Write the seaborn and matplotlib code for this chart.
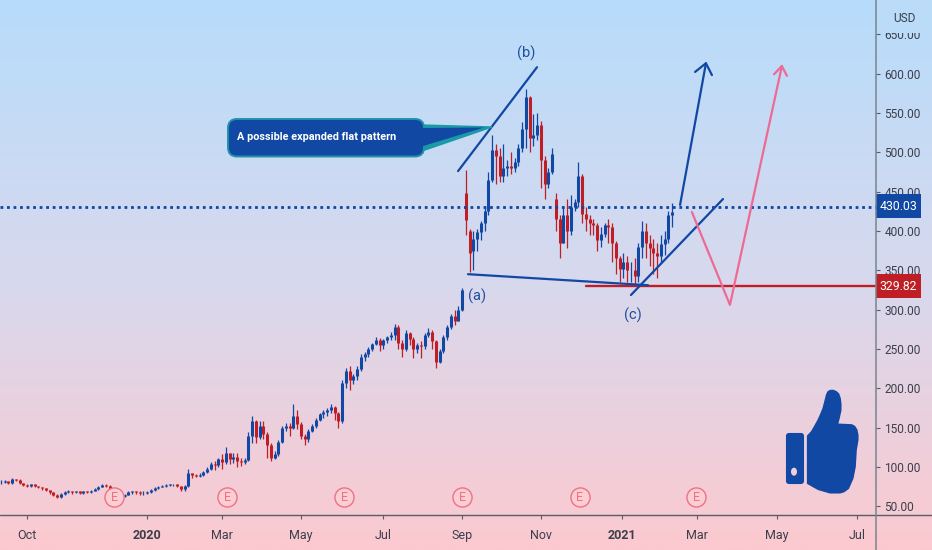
import numpy as np
import pandas as pd
import matplotlib.pyplot as plt
import seaborn as sns
from matplotlib.colors import LinearSegmentedColormap
from matplotlib.patches import FancyBboxPatch, Polygon, Ellipse, Rectangle

# Candles, one per two sessions
opens = [81, 81, 82, 80, 85, 84, 80, 77, 76, 78,
         76, 75, 73, 71, 68, 65, 62, 66, 68, 70,
         68, 69, 67, 69, 68, 70, 72, 75, 77, 76,
         72, 68, 65, 63, 65, 68, 69, 68, 67, 67,
         68, 71, 73, 75, 76, 77, 78, 78, 76, 72,
         76, 92, 90, 89, 90, 94, 98, 104, 102, 110,
         106, 118, 110, 113, 108, 106, 109, 140, 158, 138,
         152, 142, 128, 112, 116, 132, 150, 152, 150, 165,
         155, 140, 135, 146, 152, 160, 167, 170, 172, 176,
         168, 158, 207, 222, 210, 215, 225, 240, 243, 250,
         256, 262, 255, 262, 265, 268, 278, 258, 250, 270,
         263, 250, 255, 254, 268, 272, 260, 234, 248, 265,
         278, 292, 285, 300, 448, 400, 375, 390, 398, 410,
         425, 465, 503, 495, 470, 480, 483, 480, 488, 505,
         530, 570, 518, 522, 535, 490, 460, 475, 440, 415,
         385, 420, 400, 430, 437, 470, 422, 415, 410, 408,
         388, 396, 408, 405, 385, 365, 352, 360, 350, 350,
         343, 380, 400, 385, 378, 372, 368, 383, 390, 420]
highs = [83, 83, 82, 86, 85, 85, 80, 78, 79, 78,
         76, 75, 73, 71, 68, 66, 67, 70, 71, 70,
         70, 70, 70, 70, 71, 73, 76, 78, 78, 77,
         72, 68, 65, 66, 69, 70, 70, 69, 69, 69,
         72, 74, 76, 77, 78, 79, 79, 79, 76, 77,
         97, 92, 91, 92, 95, 100, 106, 108, 112, 117,
         125, 118, 118, 118, 112, 112, 145, 165, 160, 158,
         158, 145, 130, 120, 134, 152, 156, 156, 180, 172,
         157, 142, 148, 154, 162, 169, 172, 175, 180, 178,
         170, 210, 226, 228, 218, 228, 243, 246, 252, 258,
         265, 264, 263, 267, 272, 282, 280, 262, 274, 272,
         265, 258, 260, 270, 276, 274, 262, 250, 268, 280,
         294, 300, 305, 328, 477, 402, 400, 402, 412, 432,
         475, 522, 510, 505, 510, 490, 500, 492, 510, 538,
         580, 572, 548, 550, 540, 495, 480, 505, 448, 420,
         430, 440, 445, 440, 487, 472, 430, 420, 415, 410,
         405, 410, 415, 410, 387, 368, 372, 368, 360, 365,
         385, 412, 410, 395, 390, 385, 395, 400, 425, 435]
lows = [79, 80, 79, 79, 82, 79, 76, 75, 75, 75,
        73, 71, 69, 66, 63, 60, 61, 65, 67, 66,
        67, 66, 66, 67, 67, 69, 71, 74, 74, 71,
        66, 63, 60, 62, 64, 66, 66, 65, 65, 66,
        67, 70, 72, 74, 75, 76, 76, 74, 70, 70,
        75, 86, 87, 87, 89, 93, 96, 96, 100, 98,
        104, 104, 105, 100, 101, 104, 107, 130, 130, 136,
        135, 112, 108, 110, 114, 130, 146, 140, 148, 148,
        135, 128, 132, 144, 150, 158, 162, 165, 168, 160,
        150, 156, 200, 198, 205, 210, 222, 235, 240, 248,
        255, 248, 250, 258, 262, 262, 250, 240, 248, 255,
        238, 245, 238, 250, 265, 250, 226, 232, 245, 262,
        275, 280, 285, 298, 395, 348, 350, 375, 388, 400,
        420, 462, 460, 462, 462, 470, 472, 475, 482, 500,
        505, 500, 508, 515, 455, 440, 455, 472, 400, 365,
        385, 378, 395, 425, 430, 410, 400, 395, 395, 375,
        380, 392, 385, 360, 345, 335, 340, 335, 335, 330,
        335, 365, 365, 355, 345, 340, 360, 370, 385, 405]
closes = [81, 82, 80, 85, 84, 80, 77, 76, 78, 76,
          75, 73, 71, 68, 65, 62, 66, 68, 70, 68,
          69, 67, 69, 68, 70, 72, 75, 77, 76, 72,
          68, 65, 63, 65, 68, 69, 68, 67, 67, 68,
          71, 73, 75, 76, 77, 78, 78, 76, 72, 76,
          92, 90, 89, 90, 94, 98, 104, 102, 110, 106,
          118, 110, 113, 108, 106, 109, 140, 158, 138, 152,
          142, 128, 112, 116, 132, 150, 152, 150, 165, 155,
          140, 135, 146, 152, 160, 167, 170, 172, 176, 168,
          158, 207, 222, 210, 215, 225, 240, 243, 250, 256,
          262, 255, 262, 265, 268, 278, 258, 250, 270, 263,
          250, 255, 254, 268, 272, 260, 234, 248, 265, 278,
          292, 285, 300, 325, 414, 372, 390, 398, 410, 425,
          465, 503, 495, 470, 480, 483, 480, 488, 505, 530,
          570, 518, 522, 535, 490, 460, 475, 498, 415, 385,
          420, 400, 430, 437, 470, 422, 415, 410, 408, 388,
          396, 408, 405, 385, 365, 352, 360, 350, 350, 343,
          380, 400, 385, 378, 372, 368, 383, 390, 420, 424]

price_ticks = [50, 100, 150, 200, 250, 300, 350, 400, 450, 500, 550, 600, 650]
month_ticks = [14.4, 78.4, 118.6, 160.5, 204.3, 246.4, 288.5, 331.7, 371.7, 414.4, 457]
month_labels = ["Oct", "2020", "Mar", "May", "Jul", "Sep", "Nov", "2021", "Mar", "May", "Jul"]
earnings = [60.8, 121.2, 183.5, 246.4, 309.3, 371.2]

level_blue = 430.03
level_red = 329.82

BLUE = "#1148a3"
RED = "#bf1f24"
PINK = "#ee6a94"
TEXT = "#3b3f4c"

sns.set_theme(style="white")
plt.rcParams["font.family"] = ["Roboto", "DejaVu Sans"]

fig = plt.figure(figsize=(9.32, 5.5), dpi=100)

# gradient behind everything
bg = fig.add_axes([0, 0, 1, 1], zorder=0)
grad = LinearSegmentedColormap.from_list("bg", ["#b7dcfb", "#d7d9ee", "#fcc9cf"])
bg.imshow(np.linspace(0, 1, 256).reshape(-1, 1), aspect="auto", cmap=grad)
bg.axis("off")

ax = fig.add_axes([0, 35 / 550, 876 / 932, 515 / 550], zorder=1)
ax.patch.set_alpha(0)

sessions = np.arange(len(closes)) * 2 + 0.5
df = pd.DataFrame({"session": sessions, "open": opens, "high": highs, "low": lows, "close": closes})
df["side"] = np.where(df["close"] >= df["open"], "up", "down")
colors = {"up": BLUE, "down": RED}

wicks = df.melt(id_vars=["session", "side"], value_vars=["low", "high"], value_name="price")
bodies = df.melt(id_vars=["session", "side"], value_vars=["open", "close"], value_name="price")
sns.lineplot(data=wicks, x="session", y="price", hue="side", units="session", estimator=None,
             palette=colors, lw=0.9, legend=False, ax=ax, solid_capstyle="butt", zorder=2)
sns.lineplot(data=bodies, x="session", y="price", hue="side", units="session", estimator=None,
             palette=colors, lw=2.2, legend=False, ax=ax, solid_capstyle="butt", zorder=3)


def draw_line(xs, ys, color=BLUE, lw=1.6, **kw):
    sns.lineplot(x=xs, y=ys, color=color, lw=lw, sort=False, estimator=None, ax=ax, zorder=4, **kw)


# price levels
draw_line([0, 467.2], [level_blue, level_blue], color="#0f479f", lw=2.0, linestyle=(0, (1, 1.35)))
draw_line([312.5, 467.2], [level_red, level_red], color=RED, lw=1.7)

# drawn trend lines
draw_line([244.3, 286.4], [476, 608])
draw_line([249.6, 345.6], [345, 331])
draw_line([336.5, 385.6], [318.5, 440.5])

# arrows
draw_line([362.7, 376.5], [433, 613])
draw_line([370.7, 376.5, 379.7], [602, 613, 598])
draw_line([369, 389.3, 417], [424, 306, 609.5], color=PINK)
draw_line([412.8, 417, 419.7], [599, 609.5, 597], color=PINK)

# earnings markers
sns.scatterplot(x=earnings, y=[62] * len(earnings), s=190, color="#fccdd3", edgecolor="#ec7385",
                linewidth=1.0, legend=False, ax=ax, zorder=5)
for e in earnings:
    ax.text(e, 61.5, "E", color="#ec7385", fontsize=9, ha="center", va="center", zorder=6)

# wave labels
ax.text(280.5, 626, "(b)", color="#1f4f9f", fontsize=10.5, ha="center", va="center", zorder=6)
ax.text(254.5, 316.5, "(a)", color="#1f4f9f", fontsize=10.5, ha="center", va="center", zorder=6)
ax.text(337.5, 292.5, "(c)", color="#1f4f9f", fontsize=10.5, ha="center", va="center", zorder=6)

ax.set_xlim(0, 467.2)
ax.set_ylim(39, 693.4)
ax.yaxis.tick_right()
ax.set_yticks(price_ticks, [f"{p:.2f}" for p in price_ticks])
ax.set_xticks(month_ticks, month_labels)
ax.tick_params(axis="both", length=3, width=0.8, color="#555d68", labelsize=8.6, labelcolor=TEXT,
               bottom=True, right=True, pad=3)
ax.tick_params(axis="x", pad=7, labelsize=9)
for lab in ax.get_xticklabels():
    if lab.get_text() in ("2020", "2021"):
        lab.set_fontweight("bold")
ax.set_xlabel("")
ax.set_ylabel("")
sns.despine(ax=ax, left=True, right=True, top=True, bottom=True)

# pixel-space overlay: axis rules, price boxes, callout, thumb
ov = fig.add_axes([0, 0, 1, 1], zorder=2)
ov.set_xlim(0, 932)
ov.set_ylim(550, 0)
ov.axis("off")

ov.plot([0, 932], [515, 515], color="#565e68", lw=1.0)
ov.plot([876, 876], [0, 550], color="#76858f", lw=1.1)

ov.add_patch(Rectangle((877, 0), 55, 33, color="#bbdcf9", lw=0))
ov.text(904, 18, "USD", color=TEXT, fontsize=8.6, ha="center", va="center")

ov.add_patch(Rectangle((876, 194), 45, 24, color="#1148a3", lw=0))
ov.text(898.5, 206, f"{level_blue:.2f}", color="white", fontsize=8.8, ha="center", va="center")
ov.add_patch(Rectangle((876, 273.5), 45, 24.5, color="#bf1f24", lw=0))
ov.text(898.5, 286, f"{level_red:.2f}", color="white", fontsize=8.8, ha="center", va="center")

# callout
ov.add_patch(Polygon([(422, 125), (492, 127), (422, 151)], closed=True, fc="#1a9aa8", ec="#1a9aa8", lw=1))
ov.add_patch(FancyBboxPatch((228, 119), 196, 37.5, boxstyle="round,pad=0,rounding_size=9",
                            fc=BLUE, ec="#1f93ab", lw=1.4))
ov.add_patch(Polygon([(420, 128), (484, 127.5), (420, 147)], closed=True, fc=BLUE, lw=0))
ov.text(237, 137.5, "A possible expanded flat pattern", color="white", fontsize=7.8,
        fontweight="bold", ha="left", va="center")

# thumbs up
ov.add_patch(FancyBboxPatch((787, 434), 16, 49, boxstyle="round,pad=0,rounding_size=2",
                            fc=BLUE, ec=BLUE, lw=1.5))
ov.add_patch(Ellipse((794, 471.7), 6, 8, fc="#f3cfdb", lw=0))
ov.add_patch(Polygon([(807.7, 436), (811.7, 431.7), (815, 426), (818.3, 420), (821, 414), (823.3, 408.3),
                      (825.2, 401), (826.7, 395), (828, 392), (830, 390.7), (833, 390.5), (836, 391.7),
                      (838.5, 394), (840, 398.3), (840.7, 404), (840.7, 410), (839, 418), (837.3, 424.3),
                      (851.7, 425), (854.5, 426.5), (856.7, 430), (857.7, 435), (857.7, 440), (856, 450),
                      (855, 466.7), (852.7, 478.3), (848.3, 488.3), (844, 491.5), (840, 492.7), (830, 492.7),
                      (818.3, 489.3), (807.7, 483.3)], closed=True, fc=BLUE, ec=BLUE, lw=1.2, joinstyle="round"))

fig.savefig("out.png", dpi=100)
